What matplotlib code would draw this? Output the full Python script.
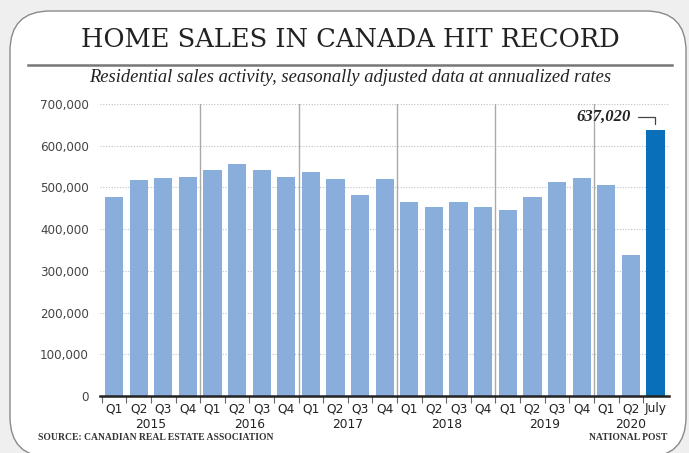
import matplotlib.pyplot as plt
from matplotlib.patches import FancyBboxPatch
from matplotlib.lines import Line2D

quarters = ['Q1', 'Q2', 'Q3', 'Q4'] * 5 + ['Q1', 'Q2', 'July']
years = ['2015', '2016', '2017', '2018', '2019', '2020']
sales = [478000, 517000, 522000, 526000,
         541000, 557000, 541000, 525000,
         538000, 520000, 482000, 520000,
         466000, 452000, 466000, 454000,
         447000, 477000, 512000, 522000,
         506000, 338000, 637020]
yticks = [0, 100000, 200000, 300000, 400000, 500000, 600000, 700000]

light = '#8aaedb'
dark = '#0a6fbb'
sans = ['Liberation Sans Narrow', 'DejaVu Sans']
serif = ['Liberation Serif', 'DejaVu Serif']

fig = plt.figure(figsize=(6.89, 4.53), dpi=100)
fig.patch.set_facecolor('#efefef')

# white rounded card behind everything
card = FancyBboxPatch((0.10, -0.04), 6.76, 4.46,
                      boxstyle='round,pad=0,rounding_size=0.40',
                      transform=fig.dpi_scale_trans, facecolor='white',
                      edgecolor='#8a8a8a', linewidth=1.0, zorder=-10)
fig.patches.append(card)

fig.text(0.508, 0.912, 'HOME SALES IN CANADA HIT RECORD', ha='center', va='center',
         family=['DejaVu Serif'], fontsize=18.5, color='#222222')
fig.lines.append(Line2D([28 / 689, 672 / 689], [1 - 65 / 453, 1 - 65 / 453],
                        transform=fig.transFigure, color='#777777', lw=1.8))
fig.text(0.508, 1 - 77 / 453, 'Residential sales activity, seasonally adjusted data at annualized rates',
         ha='center', va='center', family=serif, style='italic', fontsize=13.3, color='#222222')

ax = fig.add_axes([100 / 689, 1 - 396 / 453, 569 / 689, 292 / 453])
ax.patch.set_alpha(0)
x = list(range(len(sales)))
colors = [light] * (len(sales) - 1) + [dark]
ax.bar(x, sales, width=0.74, color=colors, zorder=2)

ax.set_xlim(-0.57, 22.55)
ax.set_ylim(0, 700000)
ax.set_yticks(yticks)
ax.set_yticklabels([f'{v:,}' for v in yticks], family=sans, fontsize=8.6, color='#444444')
ax.tick_params(axis='y', length=0, pad=8)
for v in yticks[1:]:
    ax.axhline(v, color='#c0c0c0', lw=0.8, ls=(0, (1, 1.5)), zorder=1)

for s in ['top', 'right', 'left']:
    ax.spines[s].set_visible(False)
ax.spines['bottom'].set_linewidth(1.8)
ax.spines['bottom'].set_color('#222222')

# year separators
for b in [3.5, 7.5, 11.5, 15.5, 19.5]:
    ax.axvline(b, color='#aaaaaa', lw=1.0, zorder=1)

ax.set_xticks([i - 0.5 for i in range(len(sales))])
ax.set_xticklabels([])
ax.tick_params(axis='x', length=5, width=0.8, color='#666666', direction='out')
for i, q in enumerate(quarters):
    ax.text(i, -0.022, q, transform=ax.get_xaxis_transform(), ha='center', va='top',
            family=sans, fontsize=8.8, color='#222222')
year_pos = [1.5, 5.5, 9.5, 13.5, 17.5, 21]
for p, yr in zip(year_pos, years):
    ax.text(p, -0.075, yr, transform=ax.get_xaxis_transform(), ha='center', va='top',
            family=sans, fontsize=8.8, color='#222222')

ax.annotate(f'{sales[-1]:,}', xy=(22, sales[-1] + 14000), xytext=(21.0, 670000),
            ha='right', va='center', family=serif, style='italic', fontweight='bold',
            fontsize=12, color='#222222',
            arrowprops=dict(arrowstyle='-', color='#444444', lw=0.9,
                            connectionstyle='angle,angleA=0,angleB=90,rad=0',
                            shrinkA=3, shrinkB=0))

fig.text(38 / 689, 1 - 437 / 453, 'SOURCE: CANADIAN REAL ESTATE ASSOCIATION', ha='left', va='center',
         family=serif, fontweight='bold', fontsize=6.9, color='#333333')
fig.text(667 / 689, 1 - 437 / 453, 'NATIONAL POST', ha='right', va='center',
         family=serif, fontweight='bold', fontsize=6.9, color='#333333')

fig.savefig('out.png', dpi=100, facecolor=fig.get_facecolor())
